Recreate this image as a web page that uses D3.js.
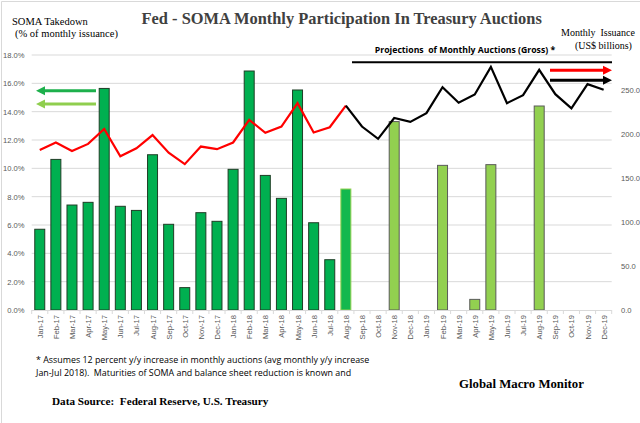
<!DOCTYPE html>
<html><head><meta charset="utf-8">
<script src="https://cdn.jsdelivr.net/npm/d3@7"></script>
<style>html,body{margin:0;padding:0;background:#fff;}svg{display:block;}text{white-space:pre;}</style>
</head><body><svg id="c" width="640" height="423"></svg>
<script>
const months = ["Jan-17","Feb-17","Mar-17","Apr-17","May-17","Jun-17","Jul-17","Aug-17","Sep-17","Oct-17","Nov-17","Dec-17",
"Jan-18","Feb-18","Mar-18","Apr-18","May-18","Jun-18","Jul-18","Aug-18","Sep-18","Oct-18","Nov-18","Dec-18",
"Jan-19","Feb-19","Mar-19","Apr-19","May-19","Jun-19","Jul-19","Aug-19","Sep-19","Oct-19","Nov-19","Dec-19"];
// SOMA takedown, % of monthly issuance
const somaPct = [5.7,10.63,7.41,7.6,15.64,7.32,7.03,10.96,6.05,1.58,6.87,6.26,
9.93,16.87,9.5,7.88,15.53,6.16,3.55,8.54,null,null,13.3,null,
null,10.21,null,0.75,10.26,null,null,14.4,null,null,null,null];
// bar group: "hist" (actual), "partial" (Aug-18), "proj" (projected)
const barGroup = months.map((m,i)=> i<19 ? "hist" : (i===19 ? "partial" : "proj"));
// Monthly issuance, US$ billions
const issuanceMonths = months.slice(0,20);
const issuanceActual = [182,190.5,181,189,206,175,184,199,179,166,186,183,
190.6,216.4,201.6,208.8,235.4,202,208,232.6];
const projMonths = months.slice(19);
const issuanceProjected = [232.6,208.8,194.8,218.5,214.1,224,253.6,235.8,245.2,276.6,235.4,244.5,273.3,245.6,229.5,257,250.6];
const leftTicks = [0,2,4,6,8,10,12,14,16,18];
const rightTicks = [0,50,100,150,200,250];

const svg = d3.select("#c");
const X0 = 31.7, X1 = 611.7, YB = 310, YT = 55;
const x = d3.scaleBand().domain(months).range([X0,X1]).paddingInner(0.38).paddingOuter(0.19);
const xb = d3.scaleBand().domain(months).range([X0,X1]);
const yL = d3.scaleLinear().domain([0,18]).range([YB,YT]);
const yR = d3.scaleLinear().domain([0,250]).range([YB,90.3]);

// frame
svg.append("path").attr("d","M1.5,423 L1.5,1.5 L640,1.5").attr("fill","none").attr("stroke","#d9d9d9");

// gridlines
svg.append("g").selectAll("line").data(leftTicks.slice(1)).join("line")
 .attr("x1",X0).attr("x2",X1).attr("y1",d=>yL(d)).attr("y2",d=>yL(d))
 .attr("stroke","#d9d9d9").attr("stroke-width",1);

// left tick labels
svg.append("g").selectAll("text").data(leftTicks).join("text")
 .attr("x",24.5).attr("y",d=>yL(d)+3).attr("text-anchor","end")
 .attr("font-family","Liberation Sans, Arial").attr("font-size",7.6).attr("fill","#595959")
 .text(d=>d3.format(".1f")(d)+"%");
// right tick labels
svg.append("g").selectAll("text").data(rightTicks).join("text")
 .attr("x",621).attr("y",d=>yR(d)+3).attr("text-anchor","start")
 .attr("font-family","Liberation Sans, Arial").attr("font-size",7.6).attr("fill","#595959")
 .text(d=>d3.format(".1f")(d));

// bars
const fills = {hist:"#00b050", partial:"#14b84e", proj:"#92d050"};
const strokes = {hist:"#1f3d26", partial:"#92d050", proj:"#5a5a5a"};
svg.append("g").selectAll("rect").data(months.map((m,i)=>({m,v:somaPct[i],g:barGroup[i]})).filter(d=>d.v!=null)).join("rect")
 .attr("x",d=>x(d.m)).attr("width",x.bandwidth())
 .attr("y",d=>yL(d.v)).attr("height",d=>YB-yL(d.v))
 .attr("fill",d=>fills[d.g]).attr("stroke",d=>strokes[d.g]).attr("stroke-width",1);

// x axis line and ticks
svg.append("line").attr("x1",X0).attr("x2",X1).attr("y1",YB+0.5).attr("y2",YB+0.5).attr("stroke","#d9d9d9");
svg.append("g").selectAll("line").data(months.concat(["__end"])).join("line")
 .attr("x1",(d,i)=>X0+i*xb.step()).attr("x2",(d,i)=>X0+i*xb.step())
 .attr("y1",YB).attr("y2",YB+4).attr("stroke","#d9d9d9");
svg.append("g").selectAll("text").data(months).join("text")
 .attr("transform",d=>`translate(${xb(d)+xb.bandwidth()/2+3},${YB+5}) rotate(-90)`)
 .attr("text-anchor","end").attr("font-family","Liberation Sans, Arial").attr("font-size",7.6).attr("fill","#595959")
 .text(d=>d);

// lines
const cx = m => xb(m)+xb.bandwidth()/2;
svg.append("path").datum(issuanceMonths.map((m,i)=>[m,issuanceActual[i]]))
 .attr("d",d3.line().x(d=>cx(d[0])).y(d=>yR(d[1])))
 .attr("fill","none").attr("stroke","#ff0000").attr("stroke-width",2.2);
svg.append("path").datum(projMonths.map((m,i)=>[m,issuanceProjected[i]]))
 .attr("d",d3.line().x(d=>cx(d[0])).y(d=>yR(d[1])))
 .attr("fill","none").attr("stroke","#000").attr("stroke-width",2.2);

// projection header line
svg.append("line").attr("x1",352).attr("x2",612).attr("y1",62.3).attr("y2",62.3).attr("stroke","#000").attr("stroke-width",2);
svg.append("text").attr("x",465).attr("y",53).attr("text-anchor","middle")
 .attr("font-family","Open Sans, Liberation Sans").attr("font-weight","bold").attr("font-size",8.7).attr("fill","#000")
 .text("Projections  of Monthly Auctions (Gross) *");

// arrows
function arrow(x1,x2,y,color,w){
  const dir = Math.sign(x2-x1);
  svg.append("line").attr("x1",x1).attr("x2",x2-dir*7).attr("y1",y).attr("y2",y).attr("stroke",color).attr("stroke-width",w);
  svg.append("path").attr("d",`M${x2},${y} L${x2-dir*9},${y-4.5} L${x2-dir*9},${y+4.5} Z`).attr("fill",color);
}
arrow(550,612,70.3,"#ff0000",3);
arrow(550,612,80.3,"#000",3);
arrow(96,36,90.7,"#1db04c",3);
arrow(96,36,104,"#8fce4e",3);

// title & labels
svg.append("text").attr("x",341.7).attr("y",24).attr("text-anchor","middle")
 .attr("font-family","Liberation Serif, Times New Roman").attr("font-weight","bold").attr("font-size",16.4).attr("fill","#404040")
 .text("Fed - SOMA Monthly Participation In Treasury Auctions");
svg.append("text").attr("x",12).attr("y",25).attr("font-family","Liberation Serif").attr("font-size",10.5).attr("fill","#000").text("SOMA Takedown");
svg.append("text").attr("x",15).attr("y",37).attr("font-family","Liberation Serif").attr("font-size",10.5).attr("fill","#000").text("(% of monthly issuance)");
svg.append("text").attr("x",561).attr("y",36).attr("font-family","Liberation Serif").attr("font-size",10).attr("fill","#000").text("Monthly  Issuance");
svg.append("text").attr("x",575).attr("y",49).attr("font-family","Liberation Serif").attr("font-size",10).attr("fill","#000").text("(US$ billions)");

svg.append("text").attr("x",36).attr("y",363).attr("font-family","Open Sans, Liberation Sans").attr("font-size",8.9).attr("fill","#000")
 .text("* Assumes 12 percent y/y increase in monthly auctions (avg monthly y/y increase");
svg.append("text").attr("x",36).attr("y",376).attr("font-family","Open Sans, Liberation Sans").attr("font-size",8.9).attr("fill","#000")
 .text("Jan-Jul 2018).  Maturities of SOMA and balance sheet reduction is known and");
svg.append("text").attr("x",52).attr("y",405).attr("font-family","Liberation Serif").attr("font-weight","bold").attr("font-size",11.2).attr("fill","#000")
 .text("Data Source:  Federal Reserve, U.S. Treasury");
svg.append("text").attr("x",459).attr("y",388).attr("font-family","Liberation Serif").attr("font-weight","bold").attr("font-size",12.8).attr("fill","#000")
 .text("Global Macro Monitor");
</script></body></html>
